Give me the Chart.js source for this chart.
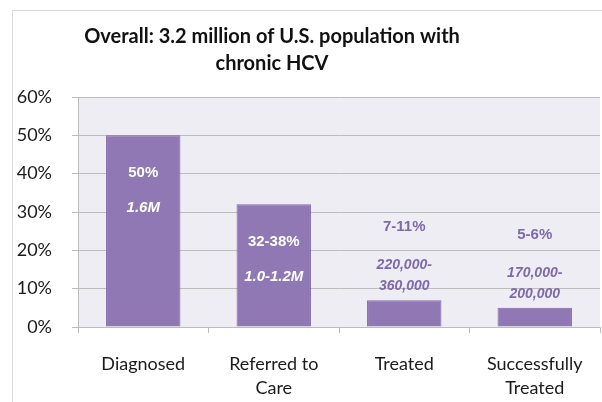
<!DOCTYPE html>
<html>
<head>
<meta charset="utf-8">
<script src="https://cdn.jsdelivr.net/npm/chart.js@4/dist/chart.umd.min.js"></script>
<style>
  html, body { margin: 0; padding: 0; background: #ffffff; }
  #wrap { width: 602px; height: 402px; }
</style>
</head>
<body>
<div id="wrap"><canvas id="chart" width="602" height="402"></canvas></div>
<script>
// Chart data
const titleLines = ["Overall: 3.2 million of U.S. population with", "chronic HCV"];
const categories = ["Diagnosed", ["Referred to", "Care"], "Treated", ["Successfully", "Treated"]];
const percentValues = [50, 32, 7, 5];
const rangeLabels = ["50%", "32-38%", "7-11%", "5-6%"];
const countLabels = [["1.6M"], ["1.0-1.2M"], ["220,000-", "360,000"], ["170,000-", "200,000"]];
const yTicks = [0, 10, 20, 30, 40, 50, 60];

const BAR_COLOR = "#8f78b3";
const BAR_BORDER = "#7d67a4";
const LABEL_PURPLE = "#7e69aa";
const GRID_COLOR = "#bcbcbc";
const AXIS_FONT = "Lato, 'Open Sans', sans-serif";
const DATA_FONT = "'Liberation Sans', Arial, sans-serif";

// Light frame and plot background
const backgroundPlugin = {
  id: "background",
  beforeDraw(chart) {
    const { ctx, chartArea } = chart;
    ctx.save();
    ctx.strokeStyle = "#dcdcdc";
    ctx.lineWidth = 1;
    ctx.strokeRect(12.5, 10.5, chart.width, chart.height);
    ctx.fillStyle = "#efedf4";
    ctx.fillRect(chartArea.left, chartArea.top, chartArea.right - chartArea.left, chartArea.bottom - chartArea.top);
    ctx.restore();
  },
};

// Two-line title, centred like the original slide
const titlePlugin = {
  id: "slideTitle",
  afterDraw(chart) {
    const { ctx } = chart;
    ctx.save();
    ctx.fillStyle = "#111111";
    ctx.font = "bold 20px " + AXIS_FONT;
    ctx.textAlign = "center";
    ctx.textBaseline = "middle";
    titleLines.forEach((line, i) => ctx.fillText(line, 272, 37 + i * 27));
    ctx.restore();
  },
};

// Value labels: inside tall bars (white), above short bars (purple)
const valueLabelPlugin = {
  id: "valueLabels",
  afterDatasetsDraw(chart) {
    const { ctx } = chart;
    const meta = chart.getDatasetMeta(0);
    ctx.save();
    ctx.textAlign = "center";
    ctx.textBaseline = "middle";
    meta.data.forEach((bar, i) => {
      const inside = percentValues[i] >= 20;
      ctx.fillStyle = inside ? "#ffffff" : LABEL_PURPLE;
      const topY = inside ? bar.y + 38 : bar.y - 73;
      ctx.font = "bold 15px " + DATA_FONT;
      ctx.fillText(rangeLabels[i], bar.x, topY);
      ctx.font = "italic bold " + (inside ? 15 : 14) + "px " + DATA_FONT;
      const subY = inside ? bar.y + 73 : bar.y - 35;
      countLabels[i].forEach((line, j) => ctx.fillText(line, bar.x, subY + j * 21));
    });
    ctx.restore();
  },
};

new Chart(document.getElementById("chart"), {
  type: "bar",
  data: {
    labels: categories,
    datasets: [
      {
        data: percentValues,
        backgroundColor: BAR_COLOR,
        borderColor: BAR_BORDER,
        borderWidth: 1,
        barPercentage: 0.57,
        categoryPercentage: 1,
      },
    ],
  },
  options: {
    responsive: false,
    animation: false,
    devicePixelRatio: 1,
    layout: { padding: { left: 0, right: 2, top: 97, bottom: 0 } },
    plugins: {
      legend: { display: false },
      title: { display: false },
      tooltip: { enabled: false },
    },
    scales: {
      x: {
        afterFit: (scale) => { scale.height = 75; },
        border: { display: true, color: GRID_COLOR, width: 1 },
        grid: { display: true, drawOnChartArea: false, drawTicks: true, tickLength: 6, color: GRID_COLOR, offset: true },
        ticks: {
          color: "#1a1a1a",
          padding: 19,
          maxRotation: 0,
          autoSkip: false,
          font: { family: AXIS_FONT, size: 18, lineHeight: 1.33 },
        },
      },
      y: {
        min: 0,
        max: 60,
        afterFit: (scale) => { scale.width = 78; },
        afterBuildTicks: (scale) => { scale.ticks = yTicks.map((v) => ({ value: v })); },
        border: { display: true, color: GRID_COLOR, width: 1 },
        grid: { color: GRID_COLOR, tickLength: 6 },
        ticks: {
          color: "#1a1a1a",
          padding: 20,
          font: { family: AXIS_FONT, size: 18 },
          callback: (v) => v + "%",
        },
      },
    },
  },
  plugins: [backgroundPlugin, titlePlugin, valueLabelPlugin],
});
</script>
</body>
</html>
